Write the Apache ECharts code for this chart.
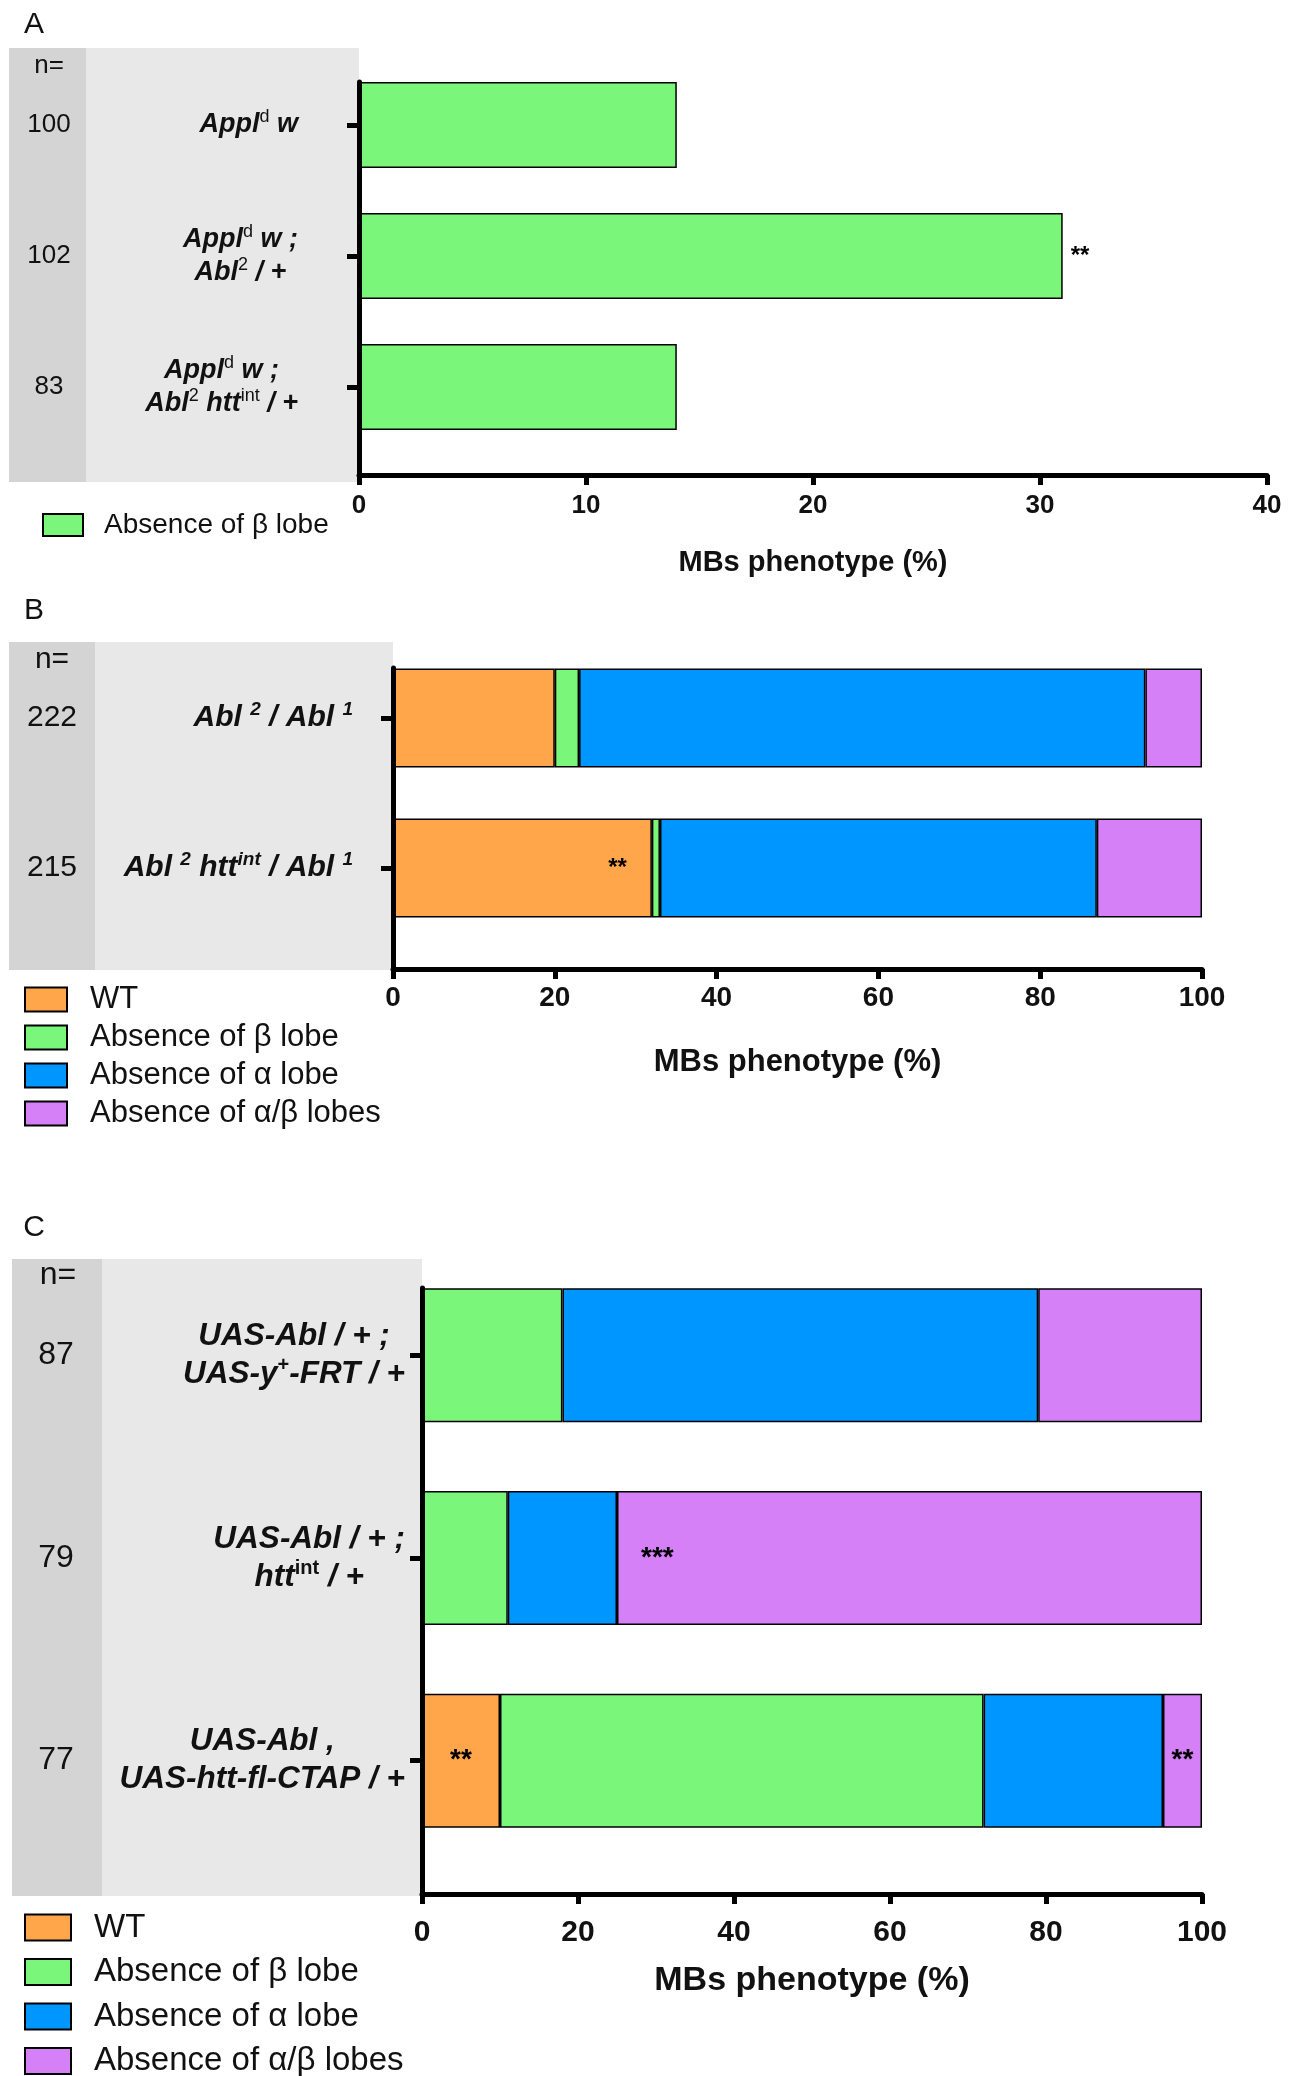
<!DOCTYPE html>
<html>
<head>
<meta charset="utf-8">
<title>MBs phenotype</title>
<script src="https://cdn.jsdelivr.net/npm/echarts@6/dist/echarts.min.js"></script>
<style>
  html, body { margin: 0; padding: 0; background: #fff; }
  #chart { width: 1292px; height: 2076px; }
</style>
</head>
<body>
<div id="chart"></div>
<script>
// ---------- data ----------
var seriesNames = ['WT', 'Absence of β lobe', 'Absence of α lobe', 'Absence of α/β lobes'];

// panel A  (^{..} = superscript)
var genotypesA = ['Appl^{d} w', 'Appl^{d} w ;\nAbl^{2} / +', 'Appl^{d} w ;\nAbl^{2} htt^{int} / +'];
var nA = ['100', '102', '83'];
var betaA = [14, 31, 14];
var starsA = ['', '**', ''];

// panel B
var genotypesB = ['Abl ^{2} / Abl ^{1}', 'Abl ^{2} htt^{int} / Abl ^{1}'];
var nB = ['222', '215'];
var wtB = [20, 32];
var betaB = [3, 1];
var alphaB = [70, 54];
var alphaBetaB = [7, 13];
var starsWtB = ['', '**'];

// panel C
var genotypesC = ['UAS-Abl / + ;\nUAS-y^{+}-FRT / +', 'UAS-Abl / + ;\nhtt^{int} / +', 'UAS-Abl ,\nUAS-htt-fl-CTAP / +'];
var nC = ['87', '79', '77'];
var wtC = [0, 0, 10];
var betaC = [18, 11, 62];
var alphaC = [61, 14, 23];
var alphaBetaC = [21, 75, 5];
var starsWtC = ['', '', '**'];
var starsAlphaBetaC = ['', '***', '**'];

// ---------- style ----------
var FONT = 'Liberation Sans, Arial, Helvetica, sans-serif';
var black = '#000';
var ink = '#111';
var colors = ['#ffa54a', '#7af77a', '#0096ff', '#d580f7'];
var darkGray = '#d4d4d4';
var lightGray = '#e8e8e8';

// 'Abl^{2}' -> rich text, every token centered so the lines of a label are centered
function toRich(text) {
  return text.split('\n').map(function (line) {
    return line.split(/\^\{([^}]*)\}/).map(function (part, i) {
      if (!part) return '';
      return '{' + (i % 2 ? 's' : 'm') + '|' + part + '}';
    }).join('');
  }).join('\n');
}

function richStyles(size, lineH, supSize, supLineH, supStyle, supWeight) {
  return {
    m: { fontSize: size, fontWeight: 'bold', fontStyle: 'italic', lineHeight: lineH, align: 'center', color: ink, fontFamily: FONT },
    s: { fontSize: supSize, fontWeight: supWeight, fontStyle: supStyle, lineHeight: supLineH, verticalAlign: 'top', align: 'center', color: ink, fontFamily: FONT }
  };
}

function genotypeAxis(grid, data, margin, rich) {
  return {
    gridIndex: grid, type: 'category', inverse: true, data: data,
    axisLine: { show: false },
    axisTick: { show: true, alignWithLabel: true, length: 12, lineStyle: { color: black, width: 5 } },
    axisLabel: { interval: 0, margin: margin, formatter: toRich, rich: rich },
    splitLine: { show: false }
  };
}

function countAxis(grid, data, offset, size) {
  return {
    gridIndex: grid, type: 'category', inverse: true, data: data, position: 'left', offset: offset,
    axisLine: { show: false }, axisTick: { show: false },
    axisLabel: { interval: 0, margin: 0, align: 'center', fontSize: size, color: ink },
    splitLine: { show: false }
  };
}

function frameX(grid, max, interval, tickSize, margin, nameSize, nameGap) {
  return {
    gridIndex: grid, type: 'value', min: 0, max: max, interval: interval, z: 5,
    axisLine: { show: true, lineStyle: { color: black, width: 5 } },
    axisTick: { show: true, length: 10, lineStyle: { color: black, width: 5 } },
    axisLabel: { fontSize: tickSize, fontWeight: 'bold', color: ink, margin: margin },
    splitLine: { show: false },
    name: 'MBs phenotype (%)', nameLocation: 'middle', nameGap: nameGap,
    nameTextStyle: { fontSize: nameSize, fontWeight: 'bold', color: ink }
  };
}

function frameY(grid) {
  return {
    gridIndex: grid, type: 'value', min: 0, max: 1, z: 5,
    axisLine: { show: true, lineStyle: { color: black, width: 5 } },
    axisTick: { show: false }, axisLabel: { show: false }, splitLine: { show: false }
  };
}

function hiddenX(grid, max) {
  return { gridIndex: grid, type: 'value', min: 0, max: max, show: false, splitLine: { show: false } };
}

// annotation stars go on the data items that carry them
function starData(values, stars, labelFor) {
  return values.map(function (v, i) {
    if (!stars[i]) return v;
    return { value: v, label: Object.assign({ show: true, formatter: stars[i] }, labelFor(i)) };
  });
}

function barSeries(name, colorIdx, xi, yi, stack, width, data, starSize) {
  return {
    name: name, type: 'bar', xAxisIndex: xi, yAxisIndex: yi, stack: stack, barWidth: width,
    data: data,
    itemStyle: { color: colors[colorIdx], borderColor: black, borderWidth: 1.5 },
    label: { show: false, fontSize: starSize, fontWeight: 'bold', color: black },
    emphasis: { disabled: true }
  };
}

function legendBlock(names, left, top, w, h, gap, size, pad) {
  return {
    data: names, orient: 'vertical', left: left, top: top, height: 230, padding: 0,
    itemWidth: w, itemHeight: h, itemGap: gap, icon: 'rect', selectedMode: false,
    itemStyle: { borderColor: black, borderWidth: 2 },
    textStyle: { fontSize: size, color: ink, padding: [0, 0, 0, pad] }
  };
}

function rect(x, y, w, h, fill) {
  return { type: 'rect', z: -10, silent: true, shape: { x: x, y: y, width: w, height: h }, style: { fill: fill } };
}

function label(x, y, text, size) {
  return { type: 'text', z: 10, silent: true, x: x, y: y,
    style: { text: text, font: size + 'px ' + FONT, fill: ink, align: 'center', verticalAlign: 'middle' } };
}

var chart = echarts.init(document.getElementById('chart'));

var option = {
  animation: false,
  textStyle: { fontFamily: FONT },
  grid: [
    { left: 359, right: 25, top: 59.5, height: 393, outerBoundsMode: 'none' },   // A bars
    { left: 359, right: 25, top: 82, height: 393, outerBoundsMode: 'none' },     // A frame
    { left: 393, right: 90, top: 643, height: 300, outerBoundsMode: 'none' },    // B bars
    { left: 393, right: 90, top: 668, height: 301, outerBoundsMode: 'none' },    // B frame
    { left: 422, right: 90, top: 1254, height: 608, outerBoundsMode: 'none' },   // C bars
    { left: 422, right: 90, top: 1288, height: 606, outerBoundsMode: 'none' }    // C frame
  ],
  xAxis: [
    hiddenX(0, 40),
    frameX(1, 40, 10, 26, 18, 29, 73),
    hiddenX(2, 100),
    frameX(3, 100, 20, 28, 15, 31, 78),
    hiddenX(4, 100),
    frameX(5, 100, 20, 30, 24, 34, 70)
  ],
  yAxis: [
    genotypeAxis(0, genotypesA, 61, richStyles(27, 33, 18, 20, 'normal', 'normal')),
    frameY(1),
    countAxis(0, nA, 310, 26),
    genotypeAxis(2, genotypesB, 40, richStyles(30, 36, 19, 22, 'italic', 'bold')),
    frameY(3),
    countAxis(2, nB, 341, 30),
    genotypeAxis(4, genotypesC, 17, richStyles(31.5, 38, 20, 24, 'normal', 'bold')),
    frameY(5),
    countAxis(4, nC, 366, 32)
  ],
  legend: [
    legendBlock([seriesNames[1]], 42, 511, 40, 22, 10, 28, 16),
    legendBlock(seriesNames, 24, 984, 42, 24, 7, 31, 18),
    legendBlock(seriesNames, 24, 1911, 46, 26, 11.5, 33, 18)
  ],
  graphic: [
    rect(9, 48, 77, 434, darkGray), rect(86, 48, 273, 434, lightGray),
    rect(9, 642, 86, 328, darkGray), rect(95, 642, 298, 328, lightGray),
    rect(12, 1259, 90, 637, darkGray), rect(102, 1259, 320, 637, lightGray),
    label(34, 25, 'A', 30), label(34, 611, 'B', 30), label(34, 1228, 'C', 30),
    label(49, 66, 'n=', 26), label(52, 660, 'n=', 30), label(58, 1275, 'n=', 32)
  ],
  series: [
    // A
    barSeries(seriesNames[1], 1, 0, 0, null, 86,
      starData(betaA, starsA, function () { return { position: 'right', distance: 8 }; }), 24),
    // B
    barSeries(seriesNames[0], 0, 2, 3, 'B', 99,
      starData(wtB, starsWtB, function () { return { position: 'insideRight', distance: 25 }; }), 24),
    barSeries(seriesNames[1], 1, 2, 3, 'B', 99, betaB, 24),
    barSeries(seriesNames[2], 2, 2, 3, 'B', 99, alphaB, 24),
    barSeries(seriesNames[3], 3, 2, 3, 'B', 99, alphaBetaB, 24),
    // C
    barSeries(seriesNames[0], 0, 4, 6, 'C', 134,
      starData(wtC, starsWtC, function () { return { position: 'inside' }; }), 28),
    barSeries(seriesNames[1], 1, 4, 6, 'C', 134, betaC, 28),
    barSeries(seriesNames[2], 2, 4, 6, 'C', 134, alphaC, 28),
    barSeries(seriesNames[3], 3, 4, 6, 'C', 134,
      starData(alphaBetaC, starsAlphaBetaC, function (i) {
        return i === 1 ? { position: 'insideLeft', distance: 24 } : { position: 'inside' };
      }), 28)
  ]
};

chart.setOption(option);
</script>
</body>
</html>
